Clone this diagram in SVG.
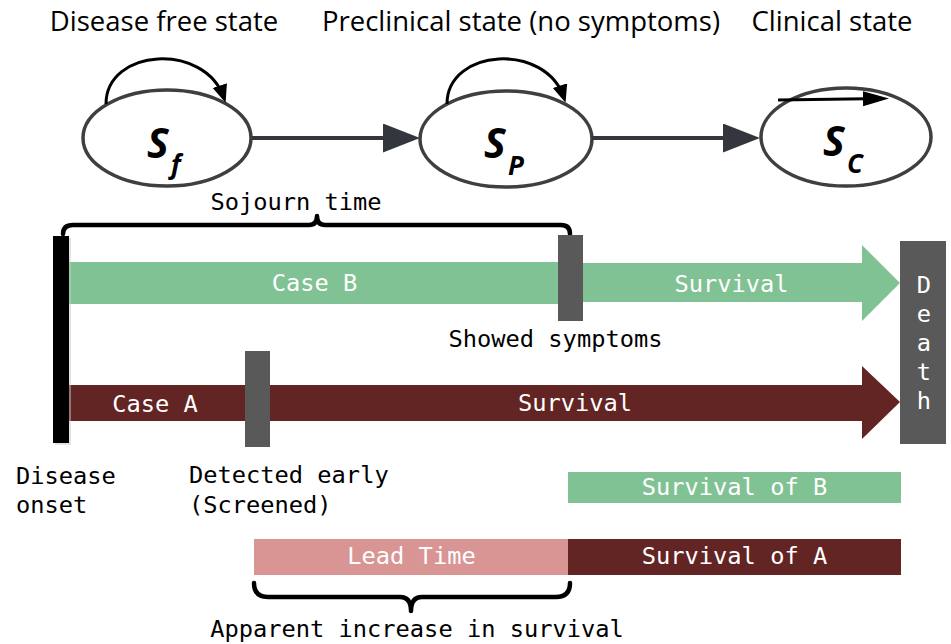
<svg xmlns="http://www.w3.org/2000/svg" width="951" height="644" viewBox="0 0 951 644">
<style>
.title{font-family:"Open Sans","Liberation Sans",sans-serif;font-size:27.5px;fill:#000;text-anchor:middle}
.state{fill:#fff;stroke:#3f3f3f;stroke-width:3.5}
.sym{font-family:"Open Sans","Liberation Sans",sans-serif;font-weight:bold;font-style:italic;fill:#000}
.mono{font-family:"DejaVu Sans Mono","Liberation Mono",monospace;font-size:23.7px;fill:#000}
.wt{fill:#fff;text-anchor:middle}
.mid{text-anchor:middle}
.edge{stroke:#33373d;stroke-width:4;fill:none}
.loop{stroke:#000;stroke-width:3;fill:none}
.brace{stroke:#000;stroke-width:4.5;fill:none;stroke-linecap:round;stroke-linejoin:round}
.green{fill:#81c294}
.red{fill:#632424}
.pink{fill:#d99594}
.gray{fill:#595959}
</style>
<defs>
<marker id="ah" markerUnits="userSpaceOnUse" markerWidth="37" markerHeight="30" refX="22" refY="14.5" orient="auto">
<path d="M0,0 L37,14.5 L0,29 z" fill="#33373d"/>
</marker>
<marker id="lh" markerUnits="userSpaceOnUse" markerWidth="18" markerHeight="16" refX="13" refY="7.5" orient="auto">
<path d="M0,0 L18,7.5 L0,15 z" fill="#000"/>
</marker>
<marker id="sh" markerUnits="userSpaceOnUse" markerWidth="26" markerHeight="16" refX="20" refY="7.5" orient="auto">
<path d="M0,0 L26,7.5 L0,15 z" fill="#000"/>
</marker>
</defs>
<rect width="951" height="644" fill="#fff"/>

<g id="titles">
<text class="title" x="164" y="31">Disease free state</text>
<text class="title" x="521" y="31">Preclinical state (no symptoms)</text>
<text class="title" x="832" y="31">Clinical state</text>
</g>

<g id="node-sf">
<ellipse class="state" cx="167" cy="138" rx="84" ry="48"/>
<text class="sym" x="147" y="158" font-size="41">S</text>
<text class="sym" x="171" y="174" font-size="26">f</text>
</g>
<g id="node-sp">
<ellipse class="state" cx="506" cy="139" rx="86" ry="48"/>
<text class="sym" x="484" y="158" font-size="41">S</text>
<text class="sym" x="508" y="175" font-size="26">P</text>
</g>
<g id="node-sc">
<ellipse class="state" cx="846" cy="137" rx="85" ry="49"/>
<text class="sym" x="823" y="156" font-size="41">S</text>
<text class="sym" x="847" y="173" font-size="26">C</text>
</g>

<g id="connectors">
<line class="edge" x1="252" y1="138" x2="405" y2="138" marker-end="url(#ah)"/>
<line class="edge" x1="592" y1="138" x2="745" y2="138" marker-end="url(#ah)"/>
<path class="loop" d="M106,104 C106,48 205,42 224,98" marker-end="url(#lh)"/>
<path class="loop" d="M447,104 C447,48 546,42 564,98" marker-end="url(#lh)"/>
<line class="loop" x1="778" y1="100" x2="883" y2="98.5" marker-end="url(#sh)"/>
</g>

<g id="sojourn">
<path class="brace" d="M63,234 Q63,225 73,225 L309,225 Q317,225 317,216 Q317,225 325,225 L561,225 Q570,225 570,234"/>
<text class="mono mid" x="296" y="210">Sojourn time</text>
</g>

<g id="case-b">
<rect class="green" x="68" y="262" width="490" height="42"/>
<polygon class="green" points="583,263 862,263 862,245 900,283 862,321 862,302 583,302"/>
<rect class="gray" x="558" y="235" width="25" height="86"/>
<text class="mono wt" x="314.5" y="291">Case B</text>
<text class="mono wt" x="731.5" y="292">Survival</text>
<text class="mono mid" x="555.5" y="347">Showed symptoms</text>
</g>

<g id="case-a">
<polygon class="red" points="66,385 862,385 862,366 900,402 862,439 862,421 66,421"/>
<rect class="gray" x="245" y="351" width="25" height="96"/>
<text class="mono wt" x="155" y="412">Case A</text>
<text class="mono wt" x="575" y="411">Survival</text>
<text class="mono" x="189" y="483">Detected early</text>
<text class="mono" x="189" y="513">(Screened)</text>
</g>

<g id="onset">
<rect x="55" y="238" width="16" height="207" fill="#c8c8c8" opacity="0.5"/>
<rect x="53" y="236" width="16" height="207" fill="#000"/>
<text class="mono" x="16" y="484">Disease</text>
<text class="mono" x="16" y="513">onset</text>
</g>

<g id="death">
<rect class="gray" x="900" y="241" width="46" height="203"/>
<text class="mono wt" x="924"><tspan x="924" y="293">D</tspan><tspan x="924" y="322">e</tspan><tspan x="924" y="351">a</tspan><tspan x="924" y="380">t</tspan><tspan x="924" y="409">h</tspan></text>
</g>

<g id="survival-b">
<rect class="green" x="568" y="472" width="333" height="31"/>
<text class="mono wt" x="734.5" y="495">Survival of B</text>
</g>

<g id="lead-time">
<rect class="pink" x="254" y="539" width="314" height="36"/>
<text class="mono wt" x="411.5" y="564">Lead Time</text>
</g>

<g id="survival-a">
<rect class="red" x="568" y="539" width="333" height="36"/>
<text class="mono wt" x="734.5" y="564">Survival of A</text>
</g>

<g id="apparent">
<path class="brace" d="M254,583 Q254,597 268,597 L400,597 Q411,597 411,611 Q411,597 422,597 L556,597 Q570,597 570,583"/>
<text class="mono mid" x="417" y="637">Apparent increase in survival</text>
</g>
</svg>
